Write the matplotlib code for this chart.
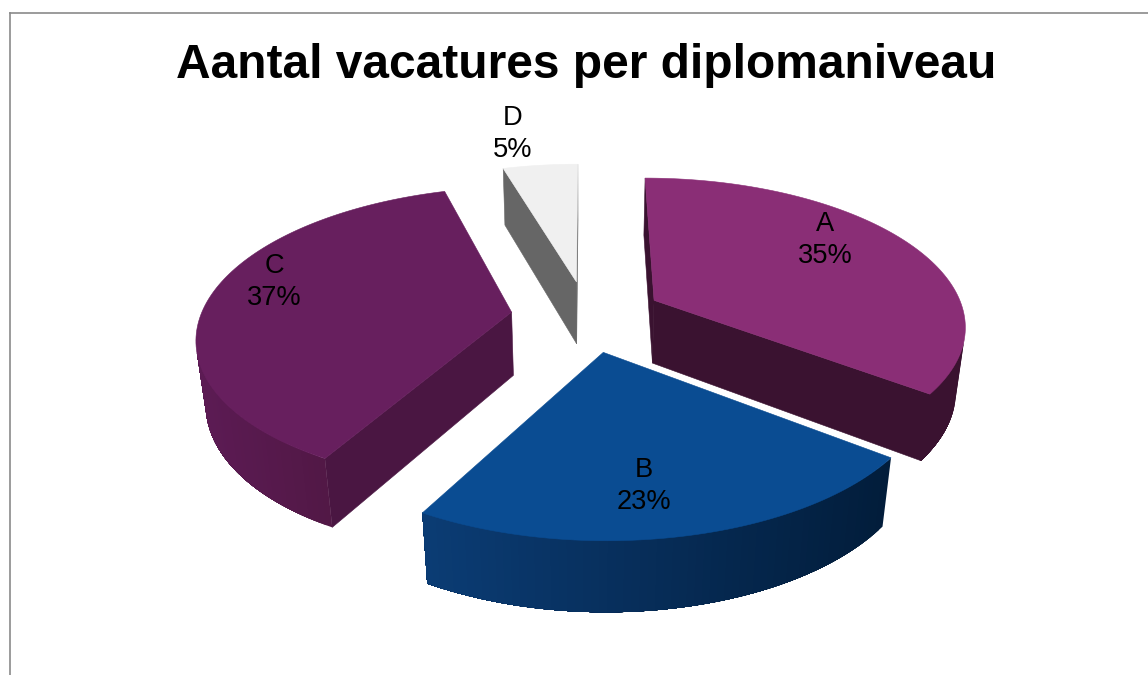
import numpy as np
import matplotlib
matplotlib.use("Agg")
import matplotlib.pyplot as plt
from matplotlib.colors import to_rgb
from matplotlib.patches import Polygon
from matplotlib.lines import Line2D

plt.rcParams['font.family'] = ['Liberation Sans', 'DejaVu Sans']

# ---- data ----
categories = ['A', 'B', 'C', 'D']
percentages = [35.3, 22.8, 37.3, 4.6]
title_text = 'Aantal vacatures per diplomaniveau'

# ---- styles ----
top_colors = ['#8A2E76', '#0A4C92', '#671F5E', '#F0F0F0']
cut_colors = ['#3A1230', '#021D3B', '#4A1642', '#666666']
wall_left = ['#3A1230', '#0B3C74', '#5C1B54', '#666666']
wall_right = ['#3A1230', '#021D3B', '#521846', '#666666']
label_xy = [(825, 240), (644, 486), (274, 282), (513, 134)]

# ---- projection of the exploded 3D pie ----
CX, CY = 587, 316
RX, RY = 311, 146
DEPTH = 65
PERSP, ZSHRINK = 0.157, 0.025
EXPLODE = 0.245
START_DEG = 0.0


def project(x, y, z):
    """World: x right, y towards viewer, z downward (0 top, 1 bottom)."""
    w = 1 - PERSP * y + ZSHRINK * z
    return CX + RX * x / w, CY + (RY * y + DEPTH * z) / w


def signed_area(pts):
    p = np.asarray(pts)
    x, y = p[:, 0], p[:, 1]
    return 0.5 * np.sum(x * np.roll(y, -1) - np.roll(x, -1) * y)


fig = plt.figure(figsize=(11.48, 6.75), dpi=100, facecolor='white')
ax = fig.add_axes([0, 0, 1, 1])
ax.set_xlim(0, 1148)
ax.set_ylim(675, 0)
ax.axis('off')

angles = START_DEG + np.concatenate([[0], np.cumsum(percentages)]) * 3.6

for i, cat in enumerate(categories):
    a0, a1 = np.radians(angles[i]), np.radians(angles[i + 1])
    mid = (a0 + a1) / 2
    ox, oy = EXPLODE * np.sin(mid), -EXPLODE * np.cos(mid)
    th = np.linspace(a0, a1, max(int(percentages[i] * 3), 12))
    xs = ox + np.sin(th)
    ys = oy - np.cos(th)

    # cut faces; keep those turned towards the viewer
    for j in (0, -1):
        face = [project(ox, oy, 0), project(xs[j], ys[j], 0),
                project(xs[j], ys[j], 1), project(ox, oy, 1)]
        s = signed_area(face) * (1 if j == 0 else -1)
        if s < 0:
            ax.add_patch(Polygon(face, closed=True, fc=cut_colors[i],
                                 ec=cut_colors[i], lw=0.4, zorder=2))

    # outer wall, shaded along its width; each strip overlaps the next to avoid seams
    idx = [k for k in range(len(th) - 1)
           if signed_area([project(xs[k], ys[k], 0), project(xs[k + 1], ys[k + 1], 0),
                           project(xs[k + 1], ys[k + 1], 1), project(xs[k], ys[k], 1)]) < 0]
    if idx:
        mids = [project(xs[k], ys[k], 0)[0] for k in idx]
        lo, hi = min(mids), max(mids)
        cl, cr = np.array(to_rgb(wall_left[i])), np.array(to_rgb(wall_right[i]))
        last = idx[-1] + 1
        for k, xm in zip(idx, mids):
            t = (xm - lo) / max(hi - lo, 1)
            col = cl + (cr - cl) * t
            upper = list(range(k, last + 1))
            quad = [project(xs[m], ys[m], 0) for m in upper] + \
                   [project(xs[m], ys[m], 1) for m in reversed(upper)]
            ax.add_patch(Polygon(quad, closed=True, fc=col, ec='none', lw=0, zorder=3))

    # top surface
    top = [project(ox, oy, 0)] + [project(x, y, 0) for x, y in zip(xs, ys)]
    ax.add_patch(Polygon(top, closed=True, fc=top_colors[i], ec=top_colors[i],
                         lw=0.4, zorder=4))

    ax.text(label_xy[i][0], label_xy[i][1], f'{cat}\n{round(percentages[i])}%',
            ha='center', va='center', fontsize=19.6, color='black',
            linespacing=1.32, zorder=6)

ax.text(586, 65, title_text, ha='center', va='center', fontsize=34.5,
        fontweight='bold', color='black', zorder=6)

# chart-area frame, cut off by the image edge
for xd, yd in (([10, 10], [13, 675]), ([10, 1148], [13, 13])):
    ax.add_line(Line2D(xd, yd, color='#8A8A8A', lw=1.2, zorder=1))

fig.savefig('out.png', dpi=100, facecolor='white')
